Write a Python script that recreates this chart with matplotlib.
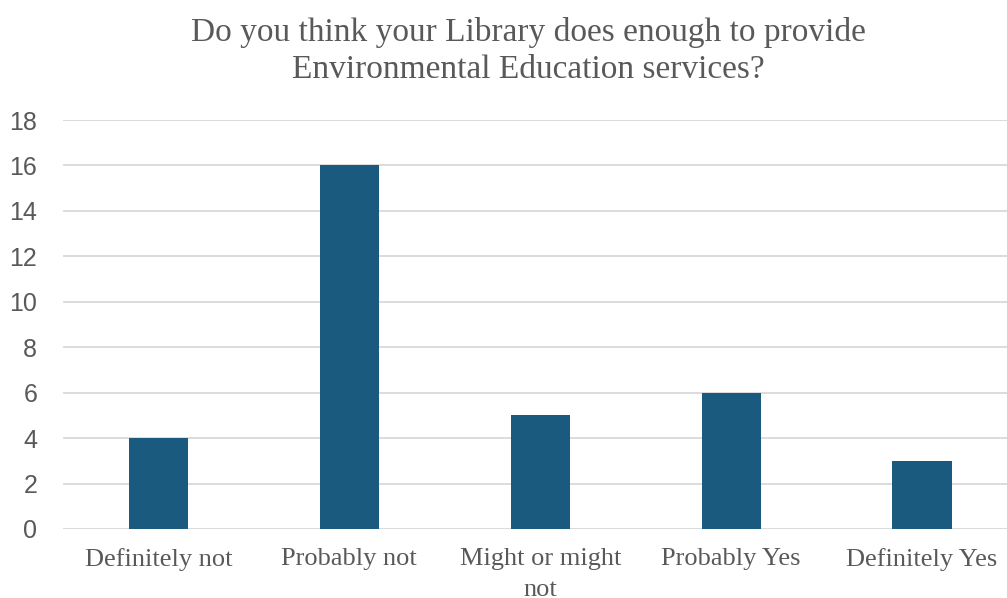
import matplotlib
matplotlib.use("Agg")
from matplotlib import pyplot as plt
import numpy as np

categories = ["Definitely not", "Probably not", "Might or might\nnot", "Probably Yes", "Definitely Yes"]
counts = [4, 16, 5, 6, 3]
y_ticks = [0, 2, 4, 6, 8, 10, 12, 14, 16, 18]

title = "Do you think your Library does enough to provide\nEnvironmental Education services?"

text_grey = "#595959"
bar_blue = "#1a5a7e"

fig = plt.figure(figsize=(10.07, 5.98), dpi=100)
ax = fig.add_axes([63 / 1007, 1 - 529 / 598, (1017.5 - 63) / 1007, (529 - 120) / 598])

x = np.arange(len(categories))
ax.bar(x, counts, width=0.31, color=bar_blue, zorder=3)

ax.set_xlim(-0.5, len(categories) - 0.5)
ax.set_ylim(0, 18)
ax.set_yticks(y_ticks)
ax.set_yticklabels([str(t) for t in y_ticks], family="Liberation Sans", fontsize=18, color=text_grey)
ax.set_xticks(x)
ax.set_xticklabels(categories, family="Liberation Serif", fontsize=19, color=text_grey, linespacing=1.48)
ax.tick_params(axis="both", length=0)
ax.tick_params(axis="y", pad=18.5)
ax.tick_params(axis="x", pad=14)

# light horizontal gridlines only, no frame
ax.grid(axis="y", color="#d9d9d9", linewidth=1.3, zorder=0)
for side in ax.spines.values():
    side.set_visible(False)

fig.text(0.5245, 0.972, title, ha="center", va="top", family="Liberation Serif",
         fontsize=24, color=text_grey, linespacing=1.3)

fig.savefig("out.png", dpi=100)
